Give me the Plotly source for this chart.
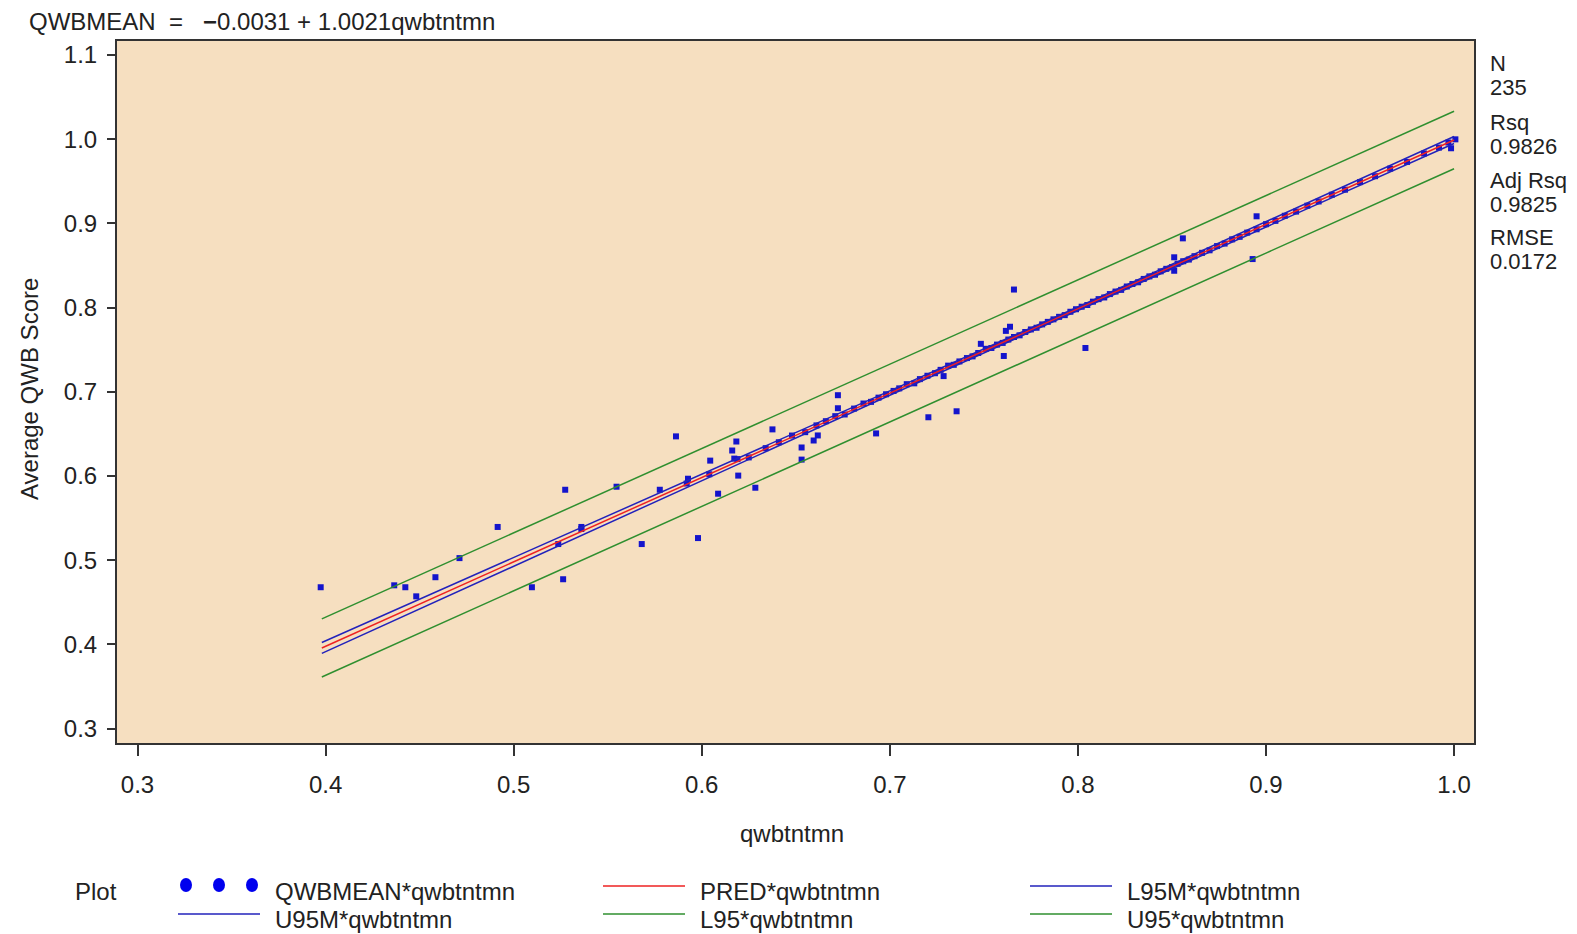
import plotly.graph_objects as go

# ---------------- data ----------------
qwbtntmn = [
    0.3974, 0.4365, 0.4424, 0.4482, 0.4584, 0.4712, 0.4915, 0.5097, 0.5263, 0.5274,
    0.5237, 0.5360, 0.5547, 0.5681, 0.5777, 0.5863, 0.5927, 0.5980, 0.6045, 0.6087,
    0.6162, 0.6184, 0.6173, 0.6194, 0.6285, 0.6376, 0.6531, 0.6531, 0.6595, 0.6617,
    0.6724, 0.6724, 0.6927, 0.7205, 0.7355, 0.7286, 0.7484, 0.7606, 0.7617, 0.7639,
    0.7660, 0.8040, 0.8512, 0.8512, 0.8558, 0.8929, 0.8950, 0.9984, 1.0007,
    0.536, 0.592, 0.604, 0.619, 0.625, 0.634, 0.641, 0.648, 0.655, 0.661,
    0.666, 0.671, 0.676, 0.681, 0.686, 0.690, 0.694, 0.698, 0.702, 0.705,
    0.709, 0.713, 0.716, 0.720, 0.724, 0.727, 0.731, 0.734, 0.737, 0.741,
    0.744, 0.747, 0.751, 0.754, 0.757, 0.760, 0.763, 0.766, 0.769, 0.772,
    0.775, 0.778, 0.781, 0.784, 0.787, 0.790, 0.793, 0.796, 0.799, 0.802,
    0.805, 0.808, 0.811, 0.814, 0.817, 0.820, 0.823, 0.826, 0.829, 0.832,
    0.835, 0.838, 0.841, 0.844, 0.847, 0.850, 0.853, 0.856, 0.859, 0.862,
    0.866, 0.870, 0.874, 0.878, 0.882, 0.886, 0.890, 0.895, 0.900, 0.905,
    0.910, 0.916, 0.922, 0.928, 0.935, 0.942, 0.950, 0.958, 0.966, 0.975,
    0.984, 0.992, 0.997,
]
qwbmean = [
    0.4678, 0.4701, 0.4678, 0.4570, 0.4797, 0.5024, 0.5394, 0.4678, 0.4773, 0.5836,
    0.5191, 0.5394, 0.5872, 0.5191, 0.5836, 0.6470, 0.5967, 0.5262, 0.6182, 0.5789,
    0.6302, 0.6409, 0.6206, 0.6004, 0.5860, 0.6553, 0.6338, 0.6194, 0.6421, 0.6481,
    0.6959, 0.6804, 0.6505, 0.6697, 0.6768, 0.7186, 0.7569, 0.7425, 0.7723, 0.7772,
    0.8214, 0.7520, 0.8597, 0.8437, 0.8822, 0.8576, 0.9084, 0.9892, 0.9998,
    0.537, 0.591, 0.602, 0.620, 0.622, 0.633, 0.640, 0.648, 0.652, 0.660,
    0.665, 0.671, 0.673, 0.680, 0.686, 0.688, 0.693, 0.697, 0.701, 0.704,
    0.709, 0.710, 0.715, 0.719, 0.722, 0.726, 0.731, 0.732, 0.736, 0.740,
    0.742, 0.746, 0.751, 0.752, 0.756, 0.758, 0.762, 0.765, 0.767, 0.771,
    0.774, 0.776, 0.780, 0.783, 0.786, 0.789, 0.791, 0.795, 0.798, 0.801,
    0.803, 0.807, 0.810, 0.812, 0.816, 0.819, 0.821, 0.825, 0.828, 0.830,
    0.834, 0.837, 0.839, 0.843, 0.846, 0.848, 0.852, 0.855, 0.857, 0.861,
    0.865, 0.868, 0.873, 0.876, 0.881, 0.884, 0.889, 0.893, 0.899, 0.903,
    0.909, 0.914, 0.921, 0.926, 0.934, 0.940, 0.949, 0.956, 0.965, 0.973,
    0.983, 0.990, 0.996,
]

fit_x = [0.398, 0.5, 0.6, 0.7, 0.8, 0.9, 1.0]
pred = [0.3957, 0.4980, 0.5982, 0.6984, 0.7986, 0.8988, 0.9990]
l95m = [0.3892, 0.4930, 0.5946, 0.6958, 0.7964, 0.8959, 0.9948]
u95m = [0.4022, 0.5030, 0.6018, 0.7010, 0.8008, 0.9017, 1.0032]
l95 = [0.3612, 0.4637, 0.5641, 0.6644, 0.7646, 0.8647, 0.9648]
u95 = [0.4302, 0.5323, 0.6323, 0.7324, 0.8326, 0.9329, 1.0332]

x_ticks = [0.3, 0.4, 0.5, 0.6, 0.7, 0.8, 0.9, 1.0]
x_ticklabels = ["0.3", "0.4", "0.5", "0.6", "0.7", "0.8", "0.9", "1.0"]
y_ticks = [0.3, 0.4, 0.5, 0.6, 0.7, 0.8, 0.9, 1.0, 1.1]
y_ticklabels = ["0.3", "0.4", "0.5", "0.6", "0.7", "0.8", "0.9", "1.0", "1.1"]

stats_labels = ["N", "235", "Rsq", "0.9826", "Adj Rsq", "0.9825", "RMSE", "0.0172"]
equation = "QWBMEAN  =   <b>\u2212</b>0.0031 + 1.0021qwbtntmn"
legend_items = [
    ("QWBMEAN*qwbtntmn", "marker"),
    ("PRED*qwbtntmn", "#ee2222"),
    ("L95M*qwbtntmn", "#2222bb"),
    ("U95M*qwbtntmn", "#2222bb"),
    ("L95*qwbtntmn", "#2f8f2f"),
    ("U95*qwbtntmn", "#2f8f2f"),
]

# ---------------- layout geometry ----------------
W, H = 1577, 934
L, R, T, B = 117, 1474, 41, 743
FONT = "Liberation Sans, Arial, sans-serif"
TXT = "#222222"
PT_COLOR = "#1414cc"
FS = 24


def px(x):
    return (x - L) / (R - L)


def py(y):
    return (B - y) / (B - T)


fig = go.Figure()

fig.add_trace(go.Scatter(
    x=qwbtntmn, y=qwbmean, mode="markers",
    marker=dict(symbol="square", size=6, color=PT_COLOR, line=dict(width=0)),
    showlegend=False, hoverinfo="x+y"))

for arr, col in [(l95, "#2f8f2f"), (u95, "#2f8f2f"), (l95m, "#2222bb"),
                 (u95m, "#2222bb"), (pred, "#ee2222")]:
    fig.add_trace(go.Scatter(x=fit_x, y=arr, mode="lines",
                             line=dict(color=col, width=1.5),
                             showlegend=False, hoverinfo="skip"))

annotations = []
shapes = []

# equation
annotations.append(dict(x=px(27), y=py(22), xref="paper", yref="paper",
                        text=equation, showarrow=False, xanchor="left",
                        yanchor="middle", font=dict(size=FS, color=TXT, family=FONT)))
# axis titles
annotations.append(dict(x=px(792), y=py(834), xref="paper", yref="paper",
                        text="qwbtntmn", showarrow=False, xanchor="center",
                        yanchor="middle", font=dict(size=FS, color=TXT, family=FONT)))
annotations.append(dict(x=px(29), y=py(389), xref="paper", yref="paper",
                        text="Average QWB Score", showarrow=False, textangle=-90,
                        xanchor="center", yanchor="middle",
                        font=dict(size=FS, color=TXT, family=FONT)))
# stats on right
stat_y = [63, 88, 122, 146, 180, 204, 237, 261]
for lab, yy in zip(stats_labels, stat_y):
    annotations.append(dict(x=px(1488), y=py(yy), xref="paper", yref="paper",
                            text=lab, showarrow=False, xanchor="left",
                            yanchor="middle", font=dict(size=22, color=TXT, family=FONT)))

# legend
annotations.append(dict(x=px(73), y=py(891), xref="paper", yref="paper",
                        text="Plot", showarrow=False, xanchor="left", yanchor="middle",
                        font=dict(size=FS, color=TXT, family=FONT)))
slots = [(178, 891), (603, 891), (1030, 891), (178, 919), (603, 919), (1030, 919)]
for (lab, kind), (sx, sy) in zip(legend_items, slots):
    if kind == "marker":
        for cx in (186, 219, 252):
            shapes.append(dict(type="circle", xref="paper", yref="paper",
                               x0=px(cx - 6), x1=px(cx + 6), y0=py(sy - 13), y1=py(sy + 1),
                               fillcolor="#0000ee", line=dict(width=0)))
    else:
        shapes.append(dict(type="line", xref="paper", yref="paper",
                           x0=px(sx), x1=px(sx + 82), y0=py(sy - 5), y1=py(sy - 5),
                           line=dict(color=kind, width=1.5)))
    annotations.append(dict(x=px(sx + 95), y=py(sy), xref="paper", yref="paper",
                            text=lab, showarrow=False, xanchor="left", yanchor="middle",
                            font=dict(size=FS, color=TXT, family=FONT)))

fig.update_layout(
    width=W, height=H,
    margin=dict(l=L, r=W - R, t=T, b=H - B, pad=0),
    paper_bgcolor="white",
    plot_bgcolor="#f6dfc0",
    annotations=annotations,
    shapes=shapes,
    showlegend=False,
    font=dict(family=FONT, size=FS, color=TXT),
    xaxis=dict(range=[0.2891, 1.0106], tickvals=x_ticks, ticktext=x_ticklabels,
               showgrid=False, zeroline=False, showline=True, mirror=True,
               linecolor="#333333", linewidth=2, ticks="outside", ticklen=11,
               tickwidth=2, tickcolor="#333333", ticklabelstandoff=8,
               tickfont=dict(size=FS, color=TXT, family=FONT)),
    yaxis=dict(range=[0.2828, 1.1166], tickvals=y_ticks, ticktext=y_ticklabels,
               showgrid=False, zeroline=False, showline=True, mirror=True,
               linecolor="#333333", linewidth=2, ticks="outside", ticklen=8,
               tickwidth=2, tickcolor="#333333", ticklabelstandoff=5,
               tickfont=dict(size=FS, color=TXT, family=FONT)),
)

fig.write_html("out.html")
